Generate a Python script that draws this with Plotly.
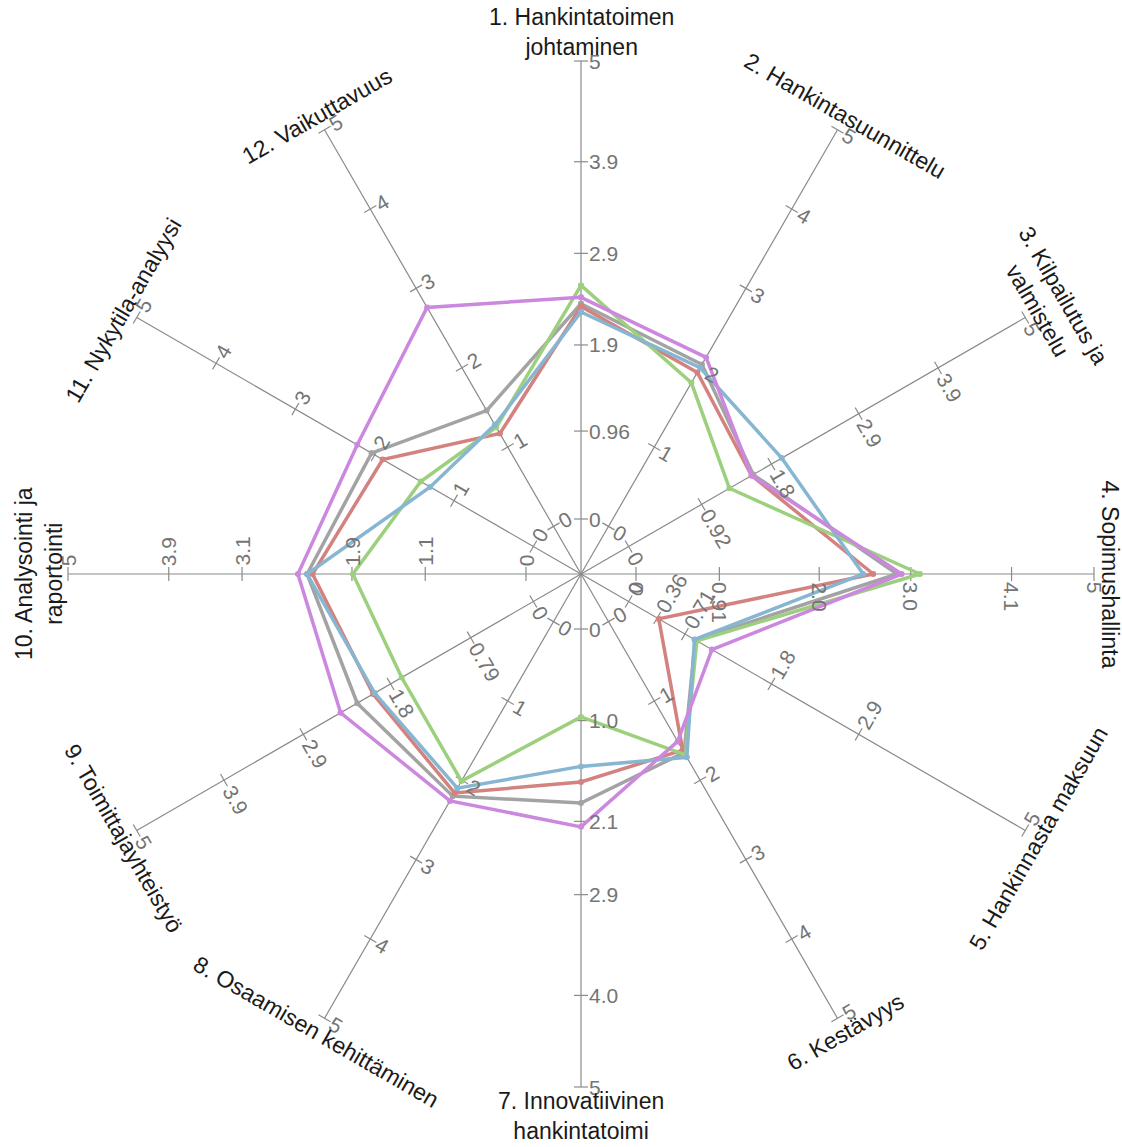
import math
import plotly.graph_objects as go

# ---------------- data ----------------
categories = [
    "1. Hankintatoimen<br>johtaminen",
    "2. Hankintasuunnittelu",
    "3. Kilpailutus ja<br>valmistelu",
    "4. Sopimushallinta",
    "5. Hankinnasta maksuun",
    "6. Kestävyys",
    "7. Innovatiivinen<br>hankintatoimi",
    "8. Osaamisen kehittäminen",
    "9. Toimittajayhteistyö",
    "10. Analysointi ja<br>raportointi",
    "11. Nykytila-analyysi",
    "12. Vaikuttavuus",
]

tick_labels = [
    ["0", "0.96", "1.9", "2.9", "3.9", "5"],
    ["0", "1", "2", "3", "4", "5"],
    ["0", "0.92", "1.8", "2.9", "3.9", "5"],
    ["0", "0.91", "2.0", "3.0", "4.1", "5"],
    ["0", "0.36", "0.71", "1.8", "2.9", "5"],
    ["0", "1", "2", "3", "4", "5"],
    ["0", "1.0", "2.1", "2.9", "4.0", "5"],
    ["0", "1", "2", "3", "4", "5"],
    ["0", "0.79", "1.8", "2.9", "3.9", "5"],
    ["0", "1.1", "1.9", "3.1", "3.9", "5"],
    ["0", "1", "2", "3", "4", "5"],
    ["0", "1", "2", "3", "4", "5"],
]

series_gray = [2.35, 2.04, 1.57, 2.85, 0.84, 1.65, 1.90, 2.20, 2.22, 2.39, 2.04, 1.46]
series_red = [2.32, 1.94, 1.55, 2.59, 0.38, 1.62, 1.67, 2.16, 2.02, 2.33, 1.90, 1.17]
series_green = [2.55, 1.81, 1.27, 3.10, 0.86, 1.68, 0.96, 2.01, 1.66, 1.89, 1.42, 1.25]
series_blue = [2.26, 2.00, 1.93, 2.48, 0.83, 1.71, 1.50, 2.10, 2.00, 2.39, 1.30, 1.28]
series_purple = [2.42, 2.13, 1.55, 2.90, 1.05, 1.51, 2.16, 2.26, 2.43, 2.49, 2.22, 2.76]

# ---------------- scale / layout ----------------
W, H = 1122, 1147
CX, CY = 581, 574          # centre in figure pixels
VMAX = 5.0
R0, R1 = 55.0, 513.0       # radius of value 0 and value 5
N = len(categories)

def radius(v):
    return R0 + (v / VMAX) * (R1 - R0)

def angle(i):
    return 360.0 * i / N

def xy(i, r):
    th = math.radians(angle(i))
    return r * math.sin(th), r * math.cos(th)

def text_rot(i):
    a = angle(i)
    if a <= 90:
        return a
    if a < 270:
        return a - 180
    return a - 360

def text_dir(i):
    a = math.radians(text_rot(i))
    return math.cos(a), -math.sin(a)

def text_width(s, size):
    w = 0.0
    for ch in s:
        w += 0.278 if ch == "." else 0.556
    return w * size

fig = go.Figure()

AXIS_COL = "#8a8a8a"
# axis lines
ax_x, ax_y = [], []
for i in range(N):
    x1, y1 = xy(i, radius(VMAX))
    ax_x += [0, x1, None]
    ax_y += [0, y1, None]
fig.add_trace(go.Scatter(x=ax_x, y=ax_y, mode="lines",
                         line=dict(color=AXIS_COL, width=1.2),
                         hoverinfo="skip", showlegend=False))

# tick marks
tk_x, tk_y = [], []
TICK_HALF = 7
for i in range(N):
    dx, dy = text_dir(i)
    for lab in tick_labels[i]:
        cx, cy = xy(i, radius(float(lab)))
        tk_x += [cx - dx * TICK_HALF, cx + dx * TICK_HALF, None]
        tk_y += [cy - dy * TICK_HALF, cy + dy * TICK_HALF, None]
fig.add_trace(go.Scatter(x=tk_x, y=tk_y, mode="lines",
                         line=dict(color=AXIS_COL, width=1.2),
                         hoverinfo="skip", showlegend=False))

annotations = []
TICK_FS = 21
FONT = "Arial, Liberation Sans, sans-serif"
for i in range(N):
    dx, dy = text_dir(i)
    rot = text_rot(i)
    for lab in tick_labels[i]:
        cx, cy = xy(i, radius(float(lab)))
        off = TICK_HALF + 1 + text_width(lab, TICK_FS) / 2
        annotations.append(dict(
            x=cx + dx * off, y=cy + dy * off, text=lab, showarrow=False,
            textangle=rot, xanchor="center", yanchor="middle",
            font=dict(size=TICK_FS, color="#757575", family=FONT)))

CAT_FS = 23
for i in range(N):
    lines = categories[i].count("<br>") + 1
    r = R1 + 2 + lines * 13.5
    cx, cy = xy(i, r)
    annotations.append(dict(
        x=cx, y=cy, text=categories[i], showarrow=False,
        textangle=text_rot(i), xanchor="center", yanchor="middle",
        font=dict(size=CAT_FS, color="#1a1a1a", family=FONT)))

series = [
    ("gray", series_gray, "#a3a3a3"),
    ("red", series_red, "#d4827f"),
    ("green", series_green, "#9dd07e"),
    ("blue", series_blue, "#86b6d1"),
    ("purple", series_purple, "#cc88de"),
]
for name, vals, col in series:
    xs, ys = [], []
    for i, v in enumerate(vals):
        x, y = xy(i, radius(v))
        xs.append(x)
        ys.append(y)
    xs.append(xs[0])
    ys.append(ys[0])
    fig.add_trace(go.Scatter(x=xs, y=ys, mode="lines+markers", name=name,
                             line=dict(color=col, width=3.5),
                             marker=dict(color=col, size=6),
                             showlegend=False))

fig.update_layout(
    width=W, height=H,
    margin=dict(l=0, r=0, t=0, b=0),
    paper_bgcolor="white", plot_bgcolor="white",
    xaxis=dict(range=[-CX, W - CX], visible=False, fixedrange=True),
    yaxis=dict(range=[-(H - CY), CY], visible=False, fixedrange=True),
    annotations=annotations,
    showlegend=False,
)

fig.write_html("out.html", config={"displayModeBar": False},
               post_script="document.body.style.margin='0px';document.body.style.overflow='hidden';")
